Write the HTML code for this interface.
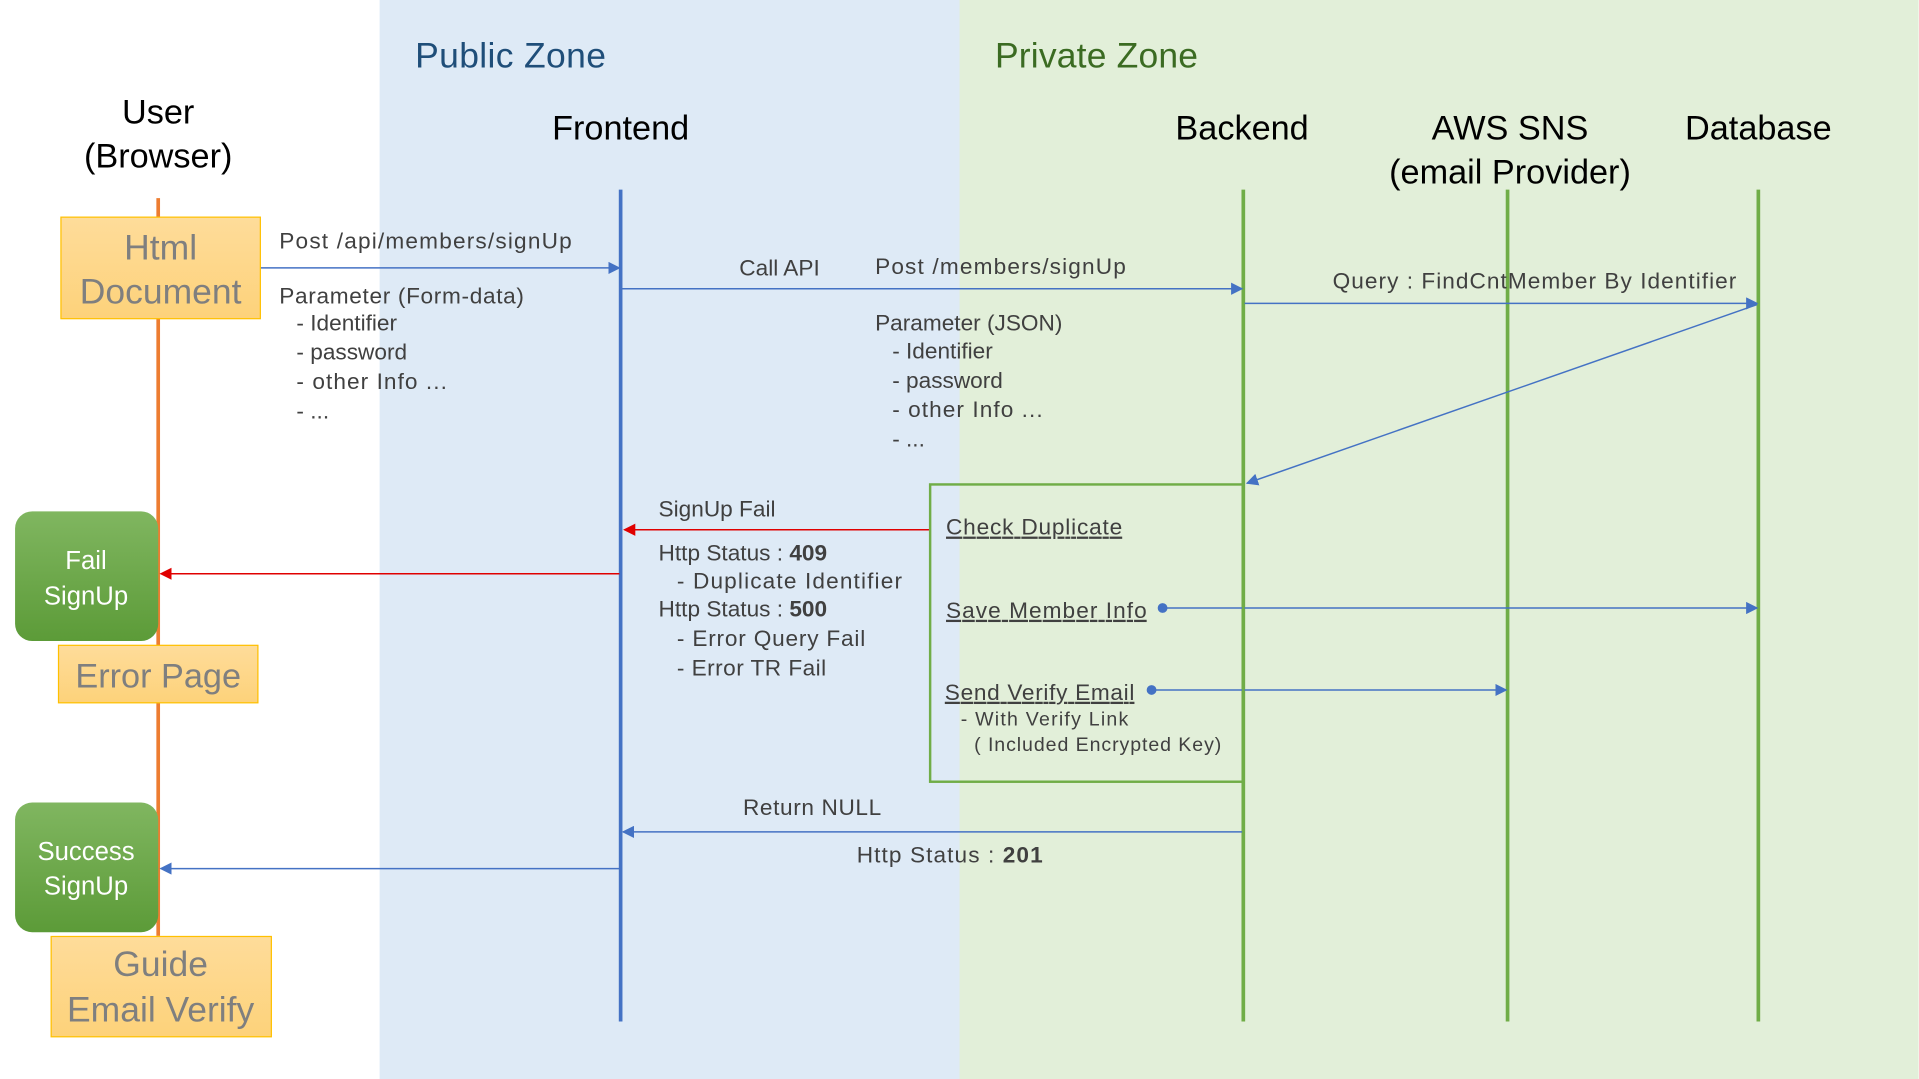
<!DOCTYPE html>
<html><head><meta charset="utf-8"><style>html,body{margin:0;padding:0;background:#fff}svg{display:block}text{font-family:"Liberation Sans",sans-serif}</style></head>
<body>
<svg width="1919" height="1079" viewBox="0 0 1568 882" xmlns="http://www.w3.org/2000/svg">
<defs>
<marker id="ab" markerWidth="10" markerHeight="10" refX="9" refY="5" orient="auto" markerUnits="userSpaceOnUse"><path d="M0,0 L10,5 L0,10 z" fill="#4472c4"/></marker>
<marker id="ar" markerWidth="10" markerHeight="10" refX="9" refY="5" orient="auto" markerUnits="userSpaceOnUse"><path d="M0,0 L10,5 L0,10 z" fill="#e00000"/></marker>
<linearGradient id="gy" x1="0" y1="0" x2="0" y2="1"><stop offset="0" stop-color="#fedc9a"/><stop offset="1" stop-color="#fdd27a"/></linearGradient>
<linearGradient id="gg" x1="0" y1="0" x2="0" y2="1"><stop offset="0" stop-color="#80b660"/><stop offset="1" stop-color="#5c9b38"/></linearGradient>
</defs>
<rect x="0" y="0" width="1568" height="882" fill="#fff"/>
<rect x="310" y="0" width="474" height="882" fill="#deeaf6"/>
<rect x="784" y="0" width="784" height="882" fill="#e2efd9"/>
<text x="339" y="55" font-size="29" fill="#1f4e79" textLength="156">Public Zone</text>
<text x="813" y="55" font-size="29" fill="#3b6b22" textLength="166">Private Zone</text>
<g font-size="28" fill="#000" text-anchor="middle">
<text x="129" y="101">User</text><text x="129" y="137">(Browser)</text>
<text x="507" y="114">Frontend</text>
<text x="1015" y="114">Backend</text>
<text x="1234" y="114">AWS SNS</text><text x="1234" y="150">(email Provider)</text>
<text x="1437" y="114">Database</text>
</g>
<line x1="129" y1="162" x2="129" y2="765" stroke="#ed7d31" stroke-width="3"/>
<line x1="507" y1="155" x2="507" y2="835" stroke="#4472c4" stroke-width="3"/>
<g stroke="#70ad47" stroke-width="3"><line x1="1016" y1="155" x2="1016" y2="835"/><line x1="1232" y1="155" x2="1232" y2="835"/><line x1="1437" y1="155" x2="1437" y2="835"/></g>
<rect x="49.5" y="177.5" width="163" height="83" fill="url(#gy)" stroke="#ffc000"/>
<text x="131" y="212" font-size="29" fill="#7f7f7f" text-anchor="middle">Html</text>
<text x="131" y="248" font-size="29" fill="#7f7f7f" text-anchor="middle">Document</text>
<g stroke="#4472c4" stroke-width="1.2" fill="none">
<line x1="213" y1="219" x2="506" y2="219" marker-end="url(#ab)"/>
<line x1="508" y1="236" x2="1015" y2="236" marker-end="url(#ab)"/>
<line x1="1017" y1="248" x2="1436" y2="248" marker-end="url(#ab)"/>
<line x1="1436" y1="249" x2="1019" y2="395" marker-end="url(#ab)"/>
<line x1="950" y1="497" x2="1436" y2="497" marker-end="url(#ab)"/>
<line x1="941" y1="564" x2="1231" y2="564" marker-end="url(#ab)"/>
<line x1="1015" y1="680" x2="509" y2="680" marker-end="url(#ab)"/>
<line x1="506" y1="710" x2="131" y2="710" marker-end="url(#ab)"/>
</g>
<circle cx="950" cy="497" r="4" fill="#4472c4"/><circle cx="941" cy="564" r="4" fill="#4472c4"/>
<g stroke="#e00000" stroke-width="1.2"><line x1="760" y1="433" x2="510" y2="433" marker-end="url(#ar)"/><line x1="506" y1="469" x2="131" y2="469" marker-end="url(#ar)"/></g>
<rect x="760" y="396" width="256" height="243" fill="none" stroke="#70ad47" stroke-width="2"/>
<g font-size="18.5" fill="#404040">
<text x="228" y="203" textLength="239">Post /api/members/signUp</text>
<text x="228" y="248" textLength="200">Parameter (Form-data)</text>
<text x="242" y="270">- Identifier</text><text x="242" y="294">- password</text><text x="242" y="318" textLength="123">- other Info ...</text><text x="242" y="342">- ...</text>
<text x="604" y="225">Call API</text>
<text x="715" y="224" textLength="205">Post /members/signUp</text>
<text x="715" y="270">Parameter (JSON)</text>
<text x="729" y="293">- Identifier</text><text x="729" y="317">- password</text><text x="729" y="341" textLength="123">- other Info ...</text><text x="729" y="365">- ...</text>
<text x="1089" y="236" textLength="330">Query : FindCntMember By Identifier</text>
<text x="538" y="422">SignUp Fail</text>
<text x="538" y="458">Http Status : <tspan font-weight="bold">409</tspan></text>
<text x="553" y="481" textLength="184">- Duplicate Identifier</text>
<text x="538" y="504">Http Status : <tspan font-weight="bold">500</tspan></text>
<text x="553" y="528" textLength="154">- Error Query Fail</text>
<text x="553" y="552" textLength="122">- Error TR Fail</text>
<text x="773" y="437" text-decoration="underline" textLength="144">Check Duplicate</text>
<text x="773" y="505" text-decoration="underline" textLength="164">Save Member Info</text>
<text x="772" y="572" text-decoration="underline" textLength="155">Send Verify Email</text>
<text x="785" y="593" font-size="16" textLength="137">- With Verify Link</text>
<text x="796" y="614" font-size="16" textLength="202">( Included Encrypted Key)</text>
<text x="607" y="666" textLength="113">Return NULL</text>
<text x="700" y="705" textLength="152">Http Status : <tspan font-weight="bold">201</tspan></text>
</g>
<rect x="12" y="418" width="117" height="106" rx="14" fill="url(#gg)"/>
<text x="70" y="465" font-size="21" fill="#fff" text-anchor="middle">Fail</text>
<text x="70" y="494" font-size="21" fill="#fff" text-anchor="middle">SignUp</text>
<rect x="47.5" y="527.5" width="163" height="47" fill="url(#gy)" stroke="#ffc000"/>
<text x="129" y="562" font-size="28" fill="#7f7f7f" text-anchor="middle">Error Page</text>
<rect x="12" y="656" width="117" height="106" rx="14" fill="url(#gg)"/>
<text x="70" y="703" font-size="21" fill="#fff" text-anchor="middle">Success</text>
<text x="70" y="731" font-size="21" fill="#fff" text-anchor="middle">SignUp</text>
<rect x="41.5" y="765.5" width="180" height="82" fill="url(#gy)" stroke="#ffc000"/>
<text x="131" y="798" font-size="29" fill="#7f7f7f" text-anchor="middle">Guide</text>
<text x="131" y="835" font-size="29" fill="#7f7f7f" text-anchor="middle">Email Verify</text>
</svg>
</body></html>
